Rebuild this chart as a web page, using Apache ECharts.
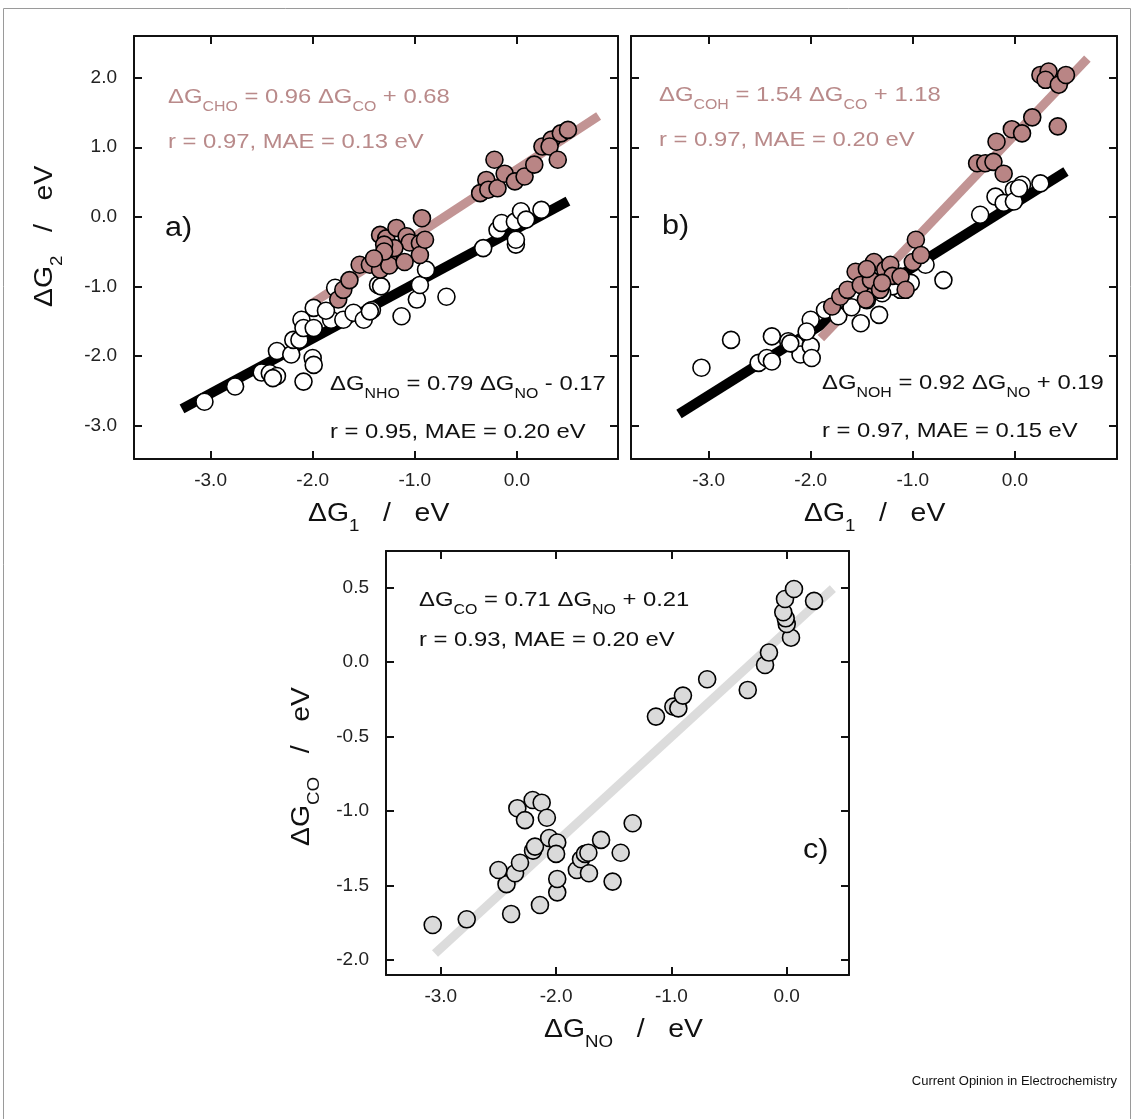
<!DOCTYPE html>
<html>
<head>
<meta charset="utf-8">
<script src="https://cdn.jsdelivr.net/npm/echarts@6/dist/echarts.min.js"></script>
<style>
html,body{margin:0;padding:0;background:#fff;}
#chart{width:1134px;height:1119px;}
</style>
</head>
<body>
<div id="chart"></div>
<script>
// ---------------- data ----------------
// Panel a: black/white = dG_NO -> dG_NHO ; brown = dG_CO -> dG_CHO
const aNO  = [-3.06,-2.76,-2.50,-2.42,-2.35,-2.39,-2.35,-2.21,-2.19,-2.13,-2.09,-2.00,-1.99,-2.11,-2.09,-1.99,-1.99,-1.82,-1.70,-1.60,-1.50,-1.42,-1.78,-1.36,-1.44,-1.33,-1.13,-0.98,-0.95,-0.89,-0.69,-0.33,-0.01,-0.19,-0.15,-0.01,-0.02,0.04,0.09,0.24,-1.87];
const aNHO = [-2.66,-2.44,-2.24,-2.25,-2.29,-2.32,-1.93,-1.98,-1.77,-1.77,-2.37,-2.03,-2.13,-1.48,-1.60,-1.60,-1.31,-1.48,-1.48,-1.38,-1.48,-1.34,-1.02,-0.98,-1.36,-1.00,-1.43,-1.19,-0.98,-0.76,-1.15,-0.45,-0.40,-0.19,-0.09,-0.33,-0.07,0.08,-0.04,0.10,-1.35];
const aCO  = [-0.22,-0.30,-0.36,-0.28,-0.19,-0.12,-0.02,0.075,0.17,0.25,0.34,0.32,0.43,0.50,0.40,-0.93,-1.75,-1.70,-1.64,-1.54,-1.44,-1.34,-1.34,-1.28,-1.26,-1.18,-1.08,-1.05,-0.95,-0.95,-0.90,-1.20,-1.30,-1.25,-1.10,-1.30,-1.40];
const aCHO = [0.82,0.53,0.34,0.39,0.41,0.62,0.51,0.58,0.75,1.01,1.11,1.01,1.20,1.25,0.82,-0.02,-1.19,-1.05,-0.91,-0.69,-0.69,-0.76,-0.26,-0.31,-0.59,-0.16,-0.28,-0.37,-0.38,-0.55,-0.33,-0.45,-0.40,-0.70,-0.65,-0.50,-0.60];
// Panel b: black/white = dG_NO -> dG_NOH ; brown = dG_CO -> dG_COH
const bNO  = [-3.07,-2.78,-2.51,-2.43,-2.38,-2.38,-2.22,-2.15,-2.10,-2.00,-1.99,-2.00,-2.04,-1.86,-1.73,-1.51,-1.53,-0.70,-1.33,-0.875,-1.12,-1.02,-0.34,-0.19,-0.11,-0.01,0.07,-0.01,0.25,0.04,-1.20,-1.45,-1.60,-1.30,-2.20];
const bNOH = [-2.17,-1.77,-2.10,-2.03,-1.72,-2.08,-1.79,-1.84,-1.98,-1.86,-2.03,-1.48,-1.65,-1.34,-1.43,-1.53,-1.15,-0.91,-1.41,-0.69,-1.05,-0.95,0.03,0.29,0.20,0.39,0.46,0.22,0.48,0.41,-1.00,-1.20,-1.30,-1.10,-1.82];
const bCO  = [-0.97,-0.37,-0.29,-0.21,-0.11,-0.18,-0.03,0.07,0.17,0.42,0.25,0.33,0.30,0.43,0.50,-1.79,-1.71,-1.64,-1.56,-1.51,-1.46,-1.41,-1.38,-1.32,-1.27,-1.22,-1.20,-1.12,-1.07,-1.00,-0.92,-1.30,-1.45];
const bCOH = [-0.33,0.77,0.77,0.79,0.62,1.08,1.26,1.20,1.43,1.30,2.04,2.09,1.97,1.90,2.04,-1.29,-1.15,-1.05,-0.79,-0.98,-1.19,-0.91,-0.65,-1.05,-0.76,-0.69,-0.85,-0.86,-1.05,-0.65,-0.55,-0.95,-0.75];
// Panel c: dG_NO -> dG_CO
const cNO = [-3.07,-2.775,-2.39,-2.14,-1.99,-1.99,-2.43,-2.50,-2.356,-2.313,-2.20,-2.183,-2.06,-1.99,-2.00,-2.336,-2.203,-2.125,-2.27,-2.08,-1.82,-1.784,-1.75,-1.72,-1.715,-1.61,-1.51,-1.44,-1.336,-1.134,-0.983,-0.94,-0.90,-0.69,-0.338,-0.188,-0.154,0.037,0.0,-0.009,-0.03,-0.015,0.063,0.237];
const cCO = [-1.764,-1.726,-1.69,-1.63,-1.545,-1.455,-1.49,-1.395,-1.417,-1.346,-1.265,-1.238,-1.18,-1.21,-1.287,-0.98,-0.925,-0.943,-1.06,-1.044,-1.395,-1.323,-1.287,-1.279,-1.417,-1.193,-1.473,-1.279,-1.081,-0.365,-0.298,-0.31,-0.224,-0.114,-0.186,-0.018,0.065,0.165,0.257,0.295,0.336,0.425,0.492,0.412];
// linear fits [slope, intercept, xFrom, xTo]
const fitA_CHO = [0.96, 0.68, -2.0, 0.8];
const fitA_NHO = [0.79, -0.17, -3.28, 0.5];
const fitB_COH = [1.54, 1.18, -1.9, 0.71];
const fitB_NOH = [0.92, 0.19, -3.29, 0.5];
const fitC_CO  = [0.71, 0.21, -3.05, 0.4];
// tick labels
const xTicksAB = [-3, -2, -1, 0];
const yTicksAB = [-3, -2, -1, 0, 1, 2];
const xTicksC = [-3, -2, -1, 0];
const yTicksC = [-2, -1.5, -1, -0.5, 0, 0.5];

// ---------------- styling ----------------
const FONT = 'Liberation Sans, Arial, Helvetica, sans-serif';
const BROWN_PT = '#b98585';
const BROWN_LINE = '#c29494';
const BROWN_TXT = '#b98a8a';
const GREY_PT = '#dadada';
const GREY_LINE = '#dcdcdc';
const SYM = 17;
const SX = 1.135; // horizontal stretch of the annotation lettering

const zip = (xs, ys) => xs.map((x, i) => [x, ys[i]]);
const fitLine = f => [[f[2], f[0]*f[2]+f[1]], [f[3], f[0]*f[3]+f[1]]];
const fmt1 = v => v.toFixed(1);

const grids = [
  {left: 134, top: 36, width: 484, height: 423},
  {left: 631, top: 36, width: 486, height: 423},
  {left: 386, top: 551, width: 463, height: 424}
];
const ranges = [
  {x: [-3.75, 0.99], y: [-3.483, 2.6], xt: xTicksAB, yt: yTicksAB, yLab: true},
  {x: [-3.76, 1.0], y: [-3.483, 2.6], xt: xTicksAB, yt: yTicksAB, yLab: false},
  {x: [-3.475, 0.54], y: [-2.10, 0.747], xt: xTicksC, yt: yTicksC, yLab: true}
];

const xAxes = [], yAxes = [];
ranges.forEach((r, g) => {
  const line = {show: true, onZero: false, lineStyle: {color: '#111', width: 2}};
  const tick = (vals) => ({show: true, inside: true, length: 8, lineStyle: {color: '#111', width: 2}, customValues: vals});
  xAxes.push({type: 'value', gridIndex: g, position: 'bottom', min: r.x[0], max: r.x[1],
    axisLine: line, axisTick: tick(r.xt), splitLine: {show: false},
    axisLabel: {show: true, customValues: r.xt, formatter: fmt1, fontSize: 19, fontFamily: FONT, color: '#222', margin: 12}});
  xAxes.push({type: 'value', gridIndex: g, position: 'top', min: r.x[0], max: r.x[1],
    axisLine: line, axisTick: tick(r.xt), splitLine: {show: false}, axisLabel: {show: false}});
  yAxes.push({type: 'value', gridIndex: g, position: 'left', min: r.y[0], max: r.y[1],
    axisLine: line, axisTick: tick(r.yt), splitLine: {show: false},
    axisLabel: {show: r.yLab, customValues: r.yt, formatter: fmt1, fontSize: 19, fontFamily: FONT, color: '#222', margin: 17}});
  yAxes.push({type: 'value', gridIndex: g, position: 'right', min: r.y[0], max: r.y[1],
    axisLine: line, axisTick: tick(r.yt), splitLine: {show: false}, axisLabel: {show: false}});
});

function lineSeries(g, f, color, width, z) {
  return {type: 'line', xAxisIndex: g*2, yAxisIndex: g*2, data: fitLine(f), showSymbol: false, symbol: 'none',
    lineStyle: {color: color, width: width, cap: 'butt'}, z: z, silent: true, animation: false};
}
function scatterSeries(g, data, fill, z) {
  return {type: 'scatter', xAxisIndex: g*2, yAxisIndex: g*2, data: data, symbol: 'circle', symbolSize: SYM,
    itemStyle: {color: fill, borderColor: '#000', borderWidth: 1.6, opacity: 1}, z: z, animation: false};
}

const series = [
  lineSeries(0, fitA_NHO, '#000', 10, 2),
  lineSeries(0, fitA_CHO, BROWN_LINE, 9, 3),
  scatterSeries(0, zip(aNO, aNHO), '#fff', 4),
  scatterSeries(0, zip(aCO, aCHO), BROWN_PT, 5),
  lineSeries(1, fitB_NOH, '#000', 10, 2),
  lineSeries(1, fitB_COH, BROWN_LINE, 9, 3),
  scatterSeries(1, zip(bNO, bNOH), '#fff', 4),
  scatterSeries(1, zip(bCO, bCOH), BROWN_PT, 5),
  lineSeries(2, fitC_CO, GREY_LINE, 9, 2),
  scatterSeries(2, zip(cNO, cCO), GREY_PT, 4)
];

// ---------------- text ----------------
function richStyles(color, main, sub, pad) {
  return {
    m: {fontSize: main, fontFamily: FONT, fill: color},
    s: {fontSize: sub, fontFamily: FONT, fill: color, padding: [pad, 0, 0, 0]}
  };
}
function txt(x, y, text, color, main, sub, pad, extra) {
  return Object.assign({type: 'text', x: x, y: y, z: 100, scaleX: SX, scaleY: 1,
    style: {text: text, rich: richStyles(color, main, sub, pad), fill: color, fontSize: main, fontFamily: FONT,
      align: 'left', verticalAlign: 'middle', textAlign: 'left', textVerticalAlign: 'middle'}}, extra || {});
}
const EQ = 21, EQS = 14, EQP = 21;
const TT = 25, TTS = 16.5, TTP = 25;
const graphics = [
  {type: 'rect', shape: {x: 3.5, y: 8.5, width: 1127, height: 1120}, style: {fill: 'none', stroke: '#9a9a9a', lineWidth: 1}, z: 0},
  // panel a
  txt(168, 97, '{m|ΔG}{s|CHO}{m| = 0.96 ΔG}{s|CO}{m| + 0.68}', BROWN_TXT, EQ, EQS, EQP),
  txt(168, 142, '{m|r = 0.97, MAE = 0.13 eV}', BROWN_TXT, EQ, EQS, EQP),
  txt(330, 384, '{m|ΔG}{s|NHO}{m| = 0.79 ΔG}{s|NO}{m| - 0.17}', '#111', EQ, EQS, EQP),
  txt(330, 432, '{m|r = 0.95, MAE = 0.20 eV}', '#111', EQ, EQS, EQP),
  txt(165, 229, '{m|a)}', '#111', 27, 13, 0),
  // panel b
  txt(659, 95, '{m|ΔG}{s|COH}{m| = 1.54 ΔG}{s|CO}{m| + 1.18}', BROWN_TXT, EQ, EQS, EQP),
  txt(659, 140, '{m|r = 0.97, MAE = 0.20 eV}', BROWN_TXT, EQ, EQS, EQP),
  txt(822, 383, '{m|ΔG}{s|NOH}{m| = 0.92 ΔG}{s|NO}{m| + 0.19}', '#111', EQ, EQS, EQP),
  txt(822, 431, '{m|r = 0.97, MAE = 0.15 eV}', '#111', EQ, EQS, EQP),
  txt(662, 227, '{m|b)}', '#111', 27, 13, 0),
  // panel c
  txt(419, 600, '{m|ΔG}{s|CO}{m| = 0.71 ΔG}{s|NO}{m| + 0.21}', '#111', EQ, EQS, EQP),
  txt(419, 640, '{m|r = 0.93, MAE = 0.20 eV}', '#111', EQ, EQS, EQP),
  txt(803, 851, '{m|c)}', '#111', 27, 13, 0),
  // axis titles
  txt(308, 514, '{m|ΔG}{s|1}{m|   /   eV}', '#111', TT, TTS, TTP),
  txt(804, 514, '{m|ΔG}{s|1}{m|   /   eV}', '#111', TT, TTS, TTP),
  txt(544, 1030, '{m|ΔG}{s|NO}{m|   /   eV}', '#111', TT, TTS, TTP),
  txt(45, 307, '{m|ΔG}{s|2}{m|   /   eV}', '#111', TT, TTS, TTP, {rotation: Math.PI/2}),
  txt(302, 846, '{m|ΔG}{s|CO}{m|   /   eV}', '#111', TT, TTS, TTP, {rotation: Math.PI/2}),
  // source
  {type: 'text', x: 1117, y: 1081, z: 100, style: {text: 'Current Opinion in Electrochemistry', fill: '#111', fontSize: 13,
    fontFamily: FONT, align: 'right', verticalAlign: 'middle', textAlign: 'right', textVerticalAlign: 'middle'}}
];

const chart = echarts.init(document.getElementById('chart'), null, {renderer: 'canvas'});
chart.setOption({
  animation: false,
  backgroundColor: '#fff',
  grid: grids,
  xAxis: xAxes,
  yAxis: yAxes,
  series: series,
  graphic: graphics
});
</script>
</body>
</html>
